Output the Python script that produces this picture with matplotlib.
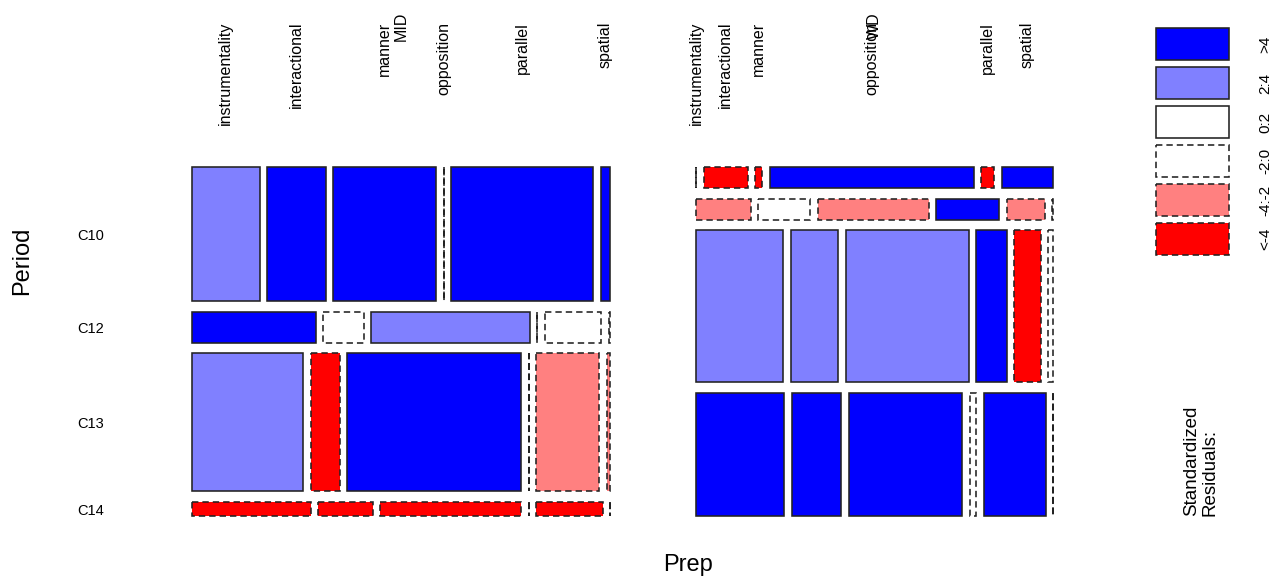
import matplotlib.pyplot as plt
from matplotlib.patches import Rectangle

plt.rcParams['font.family'] = ['Liberation Sans', 'DejaVu Sans']

periods = ['C10', 'C12', 'C13', 'C14']
preps = ['instrumentality', 'interactional', 'manner', 'opposition', 'parallel', 'spatial']
groups = ['MID', 'WD']

# share of each period inside a group (row heights)
mid_rows = [134, 31, 138, 14]
wd_rows = [21, 21, 152, 123]

# share of each prep inside a period row
mid_cells = [
    [67, 58, 102, 0, 141, 9],
    [122, 40, 156, 0, 56, 1],
    [111, 29, 174, 0, 63, 3],
    [118, 54, 140, 0, 66, 0],
]
wd_cells = [
    [0, 44, 7, 204, 13, 51],
    [55, 52, 112, 63, 38, 1],
    [89, 48, 125, 31, 27, 5],
    [89, 50, 114, 7, 62, 0],
]

# residual class per cell: 0 '<-4', 1 '-4:-2', 2 '-2:0', 3 '0:2', 4 '2:4', 5 '>4'
mid_resid = [
    [4, 5, 5, 2, 5, 5],
    [5, 2, 4, 2, 2, 2],
    [4, 0, 5, 2, 1, 1],
    [0, 0, 0, 2, 0, 2],
]
wd_resid = [
    [2, 0, 0, 5, 0, 5],
    [1, 2, 1, 5, 1, 2],
    [4, 4, 4, 5, 0, 2],
    [5, 5, 5, 2, 5, 1],
]

legend_labels = ['<-4', '-4:-2', '-2:0', '0:2', '2:4', '>4']
fills = ['#FF0000', '#FF8080', 'white', 'white', '#8080FF', '#0000FF']

fig = plt.figure(figsize=(12.83, 5.78), dpi=100)
ax = fig.add_axes([0, 0, 1, 1])
ax.set_xlim(0, 1283)
ax.set_ylim(578, 0)
ax.axis('off')

dash = (0, (4, 2.5))


def cell(x, y, w, h, r):
    ls = '-' if r >= 3 else dash
    ax.add_patch(Rectangle((x, y), w, h, facecolor=fills[r], edgecolor='#222222',
                           lw=1.15, linestyle=ls))


def draw_panel(x0, x1, rows, cells, resid, label, show_rows):
    y0, y1 = 167, 516
    vgap, hgap = 10.5, 7.5
    avail_h = (y1 - y0) - vgap * (len(rows) - 1)
    y = y0
    for i in range(len(rows)):
        hh = avail_h * rows[i] / sum(rows)
        avail_w = (x1 - x0) - hgap * (len(cells[i]) - 1)
        x = x0
        for j in range(len(cells[i])):
            ww = avail_w * cells[i][j] / sum(cells[i])
            cell(x, y, ww, hh, resid[i][j])
            if i == 0:
                ax.text(x + ww / 2, 22, preps[j], rotation=90, ha='center', va='top',
                        fontsize=11.5)
            x += ww + hgap
        if show_rows:
            ax.text(91, y + hh / 2 + 2, periods[i], ha='center', va='center',
                    fontsize=10.5)
        y += hh + vgap
    ax.text((x0 + x1) / 2, 12, label, rotation=90, ha='center', va='top', fontsize=11.5)


draw_panel(192, 610, mid_rows, mid_cells, mid_resid, groups[0], True)
draw_panel(696, 1053, wd_rows, wd_cells, wd_resid, groups[1], False)

# axis titles
ax.text(22, 261, 'Period', rotation=90, ha='center', va='center', fontsize=17)
ax.text(688, 565, 'Prep', ha='center', va='center', fontsize=17)

# legend
for k, r in enumerate(range(5, -1, -1)):
    ytop = 28 + k * 39
    cell(1156, ytop, 73, 32, r)
    ax.text(1265, ytop + 16, legend_labels[r], rotation=90, ha='center', va='center',
            fontsize=11)
ax.text(1201, 516, 'Standardized\nResiduals:', rotation=90, ha='center', va='bottom',
        multialignment='left', fontsize=13.5, linespacing=1.12)

fig.savefig('out.png', dpi=100)
